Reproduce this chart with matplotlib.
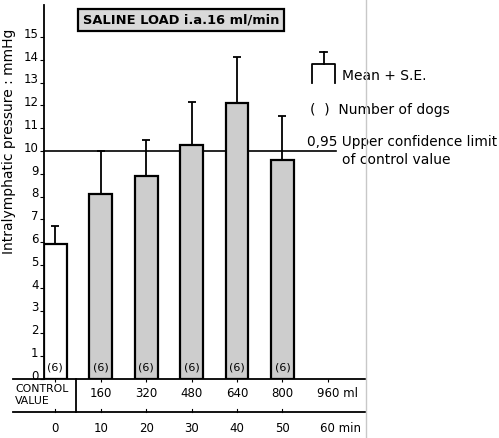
from matplotlib import pyplot as plt
from matplotlib.lines import Line2D
from matplotlib.transforms import ScaledTranslation

# time after start of saline load (min) and cumulative volume (ml)
minutes = [0, 10, 20, 30, 40, 50]
volume_labels = ["160", "320", "480", "640", "800"]
time_labels = ["0", "10", "20", "30", "40", "50"]
pressure = [5.9, 8.1, 8.9, 10.25, 12.1, 9.6]	# mean, mmHg
std_err = [0.8, 1.9, 1.6, 1.9, 2.0, 1.95]	# + S.E.
n_dogs = ["(6)", "(6)", "(6)", "(6)", "(6)", "(6)"]
upper_limit = 10.0	# 0.95 upper confidence limit of control value


def plot():
	fig = plt.figure(figsize=(4.99, 4.38), dpi=100)
	ax = fig.add_axes([0.0882, 0.1347, 0.6433, 0.8539])
	plt.rcParams['font.family'] = ['DejaVu Sans']

	colors = ["white"] + ["#cdcdcd"] * (len(minutes) - 1)
	ax.bar(minutes, pressure, width=5.0, color=colors, edgecolor="black", linewidth=1.6, zorder=2)
	ax.errorbar(minutes, pressure, yerr=[[0] * len(minutes), std_err], fmt="none",
		ecolor="black", elinewidth=1.3, capsize=3, capthick=1.3, zorder=3)

	for x, n in zip(minutes, n_dogs):
		ax.text(x, 0.5, n, ha="center", va="center", fontsize=8, zorder=4)

	# confidence limit line
	ax.plot([-2.5, 61.8], [upper_limit, upper_limit], color="black", lw=1.2, clip_on=False, zorder=1)
	ax.text(55.4, upper_limit + 0.08, "0,95 Upper confidence limit", fontsize=9.8, va="bottom", clip_on=False)
	ax.text(63.1, upper_limit - 0.1, "of control value", fontsize=10, va="top", clip_on=False)

	# legend drawn by hand
	ax.plot([56.6, 56.6, 61.6, 61.6], [13.0, 13.8, 13.8, 13.0], color="black", lw=1.3, clip_on=False)
	ax.plot([59.1, 59.1], [13.8, 14.35], color="black", lw=1.3, clip_on=False)
	ax.plot([58.3, 59.9], [14.35, 14.35], color="black", lw=1.3, clip_on=False)
	ax.text(63.1, 13.3, "Mean + S.E.", fontsize=10, va="center", clip_on=False)
	ax.text(56.1, 11.8, "(  )  Number of dogs", fontsize=10, va="center", clip_on=False)

	# title box
	ax.text(6.0, 15.75, "SALINE LOAD i.a.16 ml/min", fontsize=9.4, fontweight="bold", va="center",
		bbox=dict(boxstyle="square,pad=0.35", facecolor="#d9d9d9", edgecolor="black", lw=1.6))

	ax.set_xlim(-2.5, 68.2)
	ax.set_ylim(0, 16.4)
	ax.set_yticks(range(16))
	ax.tick_params(axis="y", labelsize=8.5, length=3, pad=1)
	shift = ScaledTranslation(0, 3 / 72, fig.dpi_scale_trans)
	for lab in ax.get_yticklabels():
		lab.set_transform(lab.get_transform() + shift)
	ax.set_xticks(minutes + [60])
	ax.tick_params(axis="x", length=2, labelbottom=False)
	ax.spines["top"].set_visible(False)
	ax.spines["right"].set_visible(False)
	ax.spines["left"].set_linewidth(1.3)
	ax.spines["bottom"].set_linewidth(1.3)
	ax.set_ylabel("Intralymphatic pressure : mmHg", fontsize=10)
	ax.yaxis.set_label_coords(-0.087, 0.636)

	# table under the axis
	ax.plot([-9.3, -2.5], [0, 0], color="black", lw=1.3, clip_on=False)
	ax.plot([-9.3, 68.2], [-1.45, -1.45], color="black", lw=1.3, clip_on=False)
	ax.plot([4.55, 4.55], [0, -1.45], color="black", lw=1.3, clip_on=False)
	ax.text(-8.9, -0.42, "CONTROL", fontsize=7.8, va="center", clip_on=False)
	ax.text(-8.9, -0.97, "VALUE", fontsize=7.8, va="center", clip_on=False)
	for x, v in zip(minutes[1:], volume_labels):
		ax.text(x, -0.62, v, fontsize=8.5, ha="center", va="center", clip_on=False)
	ax.text(57.6, -0.62, "960 ml", fontsize=8.5, va="center", clip_on=False)
	for x, t in zip(minutes, time_labels):
		ax.plot([x, x], [-1.45, -1.33], color="black", lw=0.8, clip_on=False)
		ax.text(x, -2.15, t, fontsize=8.5, ha="center", va="center", clip_on=False)
	ax.text(58.3, -2.15, "60 min", fontsize=8.5, va="center", clip_on=False)

	# faint fold line of the scanned page
	fig.add_artist(Line2D([366 / 499, 366 / 499], [0, 1], color="#c8c8c8", lw=1))

	fig.savefig("out.png", dpi=100)


def main():
	plot()


if __name__ == '__main__':
	main()
